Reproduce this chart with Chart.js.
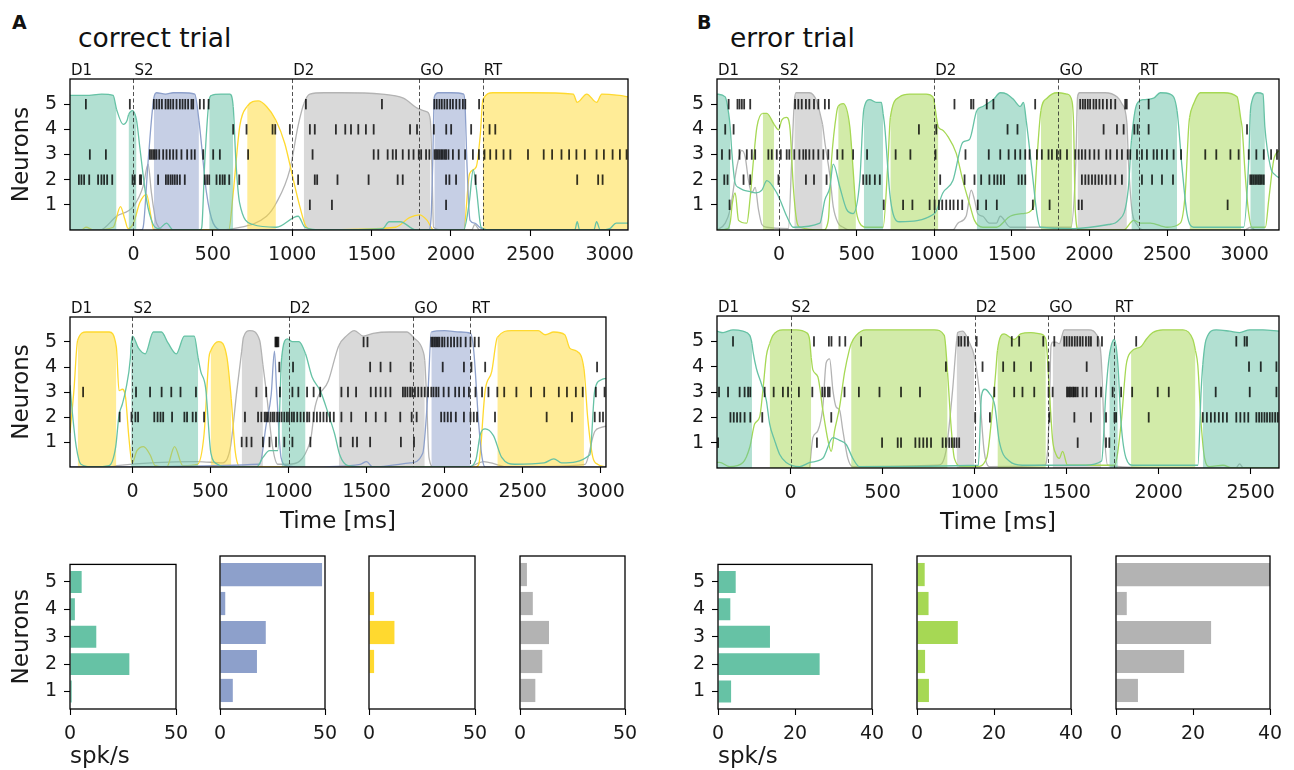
<!DOCTYPE html>
<html><head><meta charset="utf-8">
<script src="https://cdn.jsdelivr.net/npm/chart.js@4.4.0/dist/chart.umd.min.js"></script>
<style>
body{margin:0;background:#fff;width:1294px;height:770px;overflow:hidden;position:relative;font-family:'DejaVu Sans',sans-serif;}
canvas{position:absolute;}
.lbl{position:absolute;white-space:nowrap;color:#111;}
</style></head><body>
<div class="lbl" style="left:12px;top:13px;font-size:19px;font-weight:bold;line-height:19px">A</div>
<div class="lbl" style="left:78px;top:25px;font-size:26.5px;line-height:26.5px">correct trial</div>
<div class="lbl" style="left:697px;top:13px;font-size:19px;font-weight:bold;line-height:19px">B</div>
<div class="lbl" style="left:730px;top:25px;font-size:26.5px;line-height:26.5px">error trial</div>
<script>
Chart.defaults.font.family = 'DejaVu Sans';

const neurons = [1, 2, 3, 4, 5];
const eventNames = ['D1', 'S2', 'D2', 'GO', 'RT'];
const aTopEvents = [-400, 0, 1000, 1800, 2200];
const aBotEvents = [-400, 0, 1000, 1800, 2166];
const bTopEvents = [-400, 0, 1000, 1800, 2317];
const bBotEvents = [-400, 0, 1000, 1400, 1756];
const timeTicks = [0, 500, 1000, 1500, 2000, 2500, 3000];
const timeTicksShort = [0, 500, 1000, 1500, 2000, 2500];
const barTicksA = [0, 50];
const barTicksB = [0, 20, 40];

// spike times (ms), one list per neuron 1..5
const aTopSpikes = [
  [1111, 1250, 1969],
  [-344, -328, -311, -279, -223, -202, -185, -166, -134, -6, 8, 40, 48, 155, 204, 218, 233, 246, 260, 275, 292, 323, 449, 464, 477, 523, 544, 561, 575, 603, 666, 1037, 1142, 1157, 1285, 1481, 1664, 1696, 1969, 1990, 2032, 2155, 2795, 2927, 2955],
  [-275, -174, 103, 113, 124, 134, 145, 162, 187, 208, 229, 250, 271, 302, 338, 365, 386, 439, 502, 544, 722, 1128, 1513, 1542, 1601, 1633, 1654, 1696, 1734, 1764, 1797, 1812, 1843, 1864, 1896, 1906, 1917, 1927, 1938, 1948, 1959, 1969, 1984, 2012, 2049, 2089, 2138, 2176, 2211, 2247, 2285, 2331, 2374, 2485, 2584, 2637, 2696, 2744, 2790, 2843, 2917, 2963, 3018, 3064, 3106],
  [628, 712, 876, 893, 985, 1111, 1142, 1275, 1334, 1370, 1416, 1464, 1513, 1742, 1786, 1892, 1970, 2001, 2127, 2243, 2279],
  [-300, -23, 128, 145, 162, 179, 202, 218, 233, 250, 271, 292, 309, 326, 344, 365, 376, 418, 443, 473, 1086, 1565, 1895, 1910, 1927, 1942, 1959, 1976, 1995, 2012, 2033, 2054, 2075, 2090, 2177]
];
const aBotSpikes = [
  [700, 731, 763, 836, 878, 920, 973, 1025, 1140, 1334, 1412, 1439, 1523, 1720, 1804],
  [-82, -6, 19, 36, 140, 161, 180, 197, 254, 333, 350, 386, 407, 459, 721, 805, 826, 847, 857, 868, 885, 899, 910, 927, 941, 956, 973, 990, 1004, 1021, 1035, 1056, 1077, 1098, 1119, 1133, 1161, 1182, 1203, 1224, 1245, 1266, 1290, 1339, 1402, 1496, 1559, 1622, 1716, 1789, 1821, 1978, 1999, 2020, 2041, 2072, 2124, 2166, 2187, 2208, 2323, 2654, 2816, 2962, 2994, 3015],
  [-316, 23, 113, 187, 249, 308, 407, 794, 857, 945, 1025, 1063, 1119, 1161, 1203, 1339, 1381, 1433, 1527, 1559, 1590, 1622, 1653, 1733, 1747, 1762, 1779, 1793, 1810, 1831, 1852, 1873, 1894, 1915, 1929, 1946, 1961, 1994, 2026, 2068, 2093, 2124, 2156, 2198, 2240, 2281, 2338, 2382, 2460, 2554, 2638, 2732, 2784, 2841, 2885, 2969, 3025],
  [941, 1029, 1523, 1590, 1653, 1783, 1988, 2124, 2172, 2260, 2977],
  [916, 922, 928, 935, 1481, 1506, 1915, 1925, 1936, 1946, 1957, 1967, 1984, 1999, 2020, 2041, 2061, 2082, 2103, 2135, 2166, 2193, 2219]
];
const bTopSpikes = [
  [-319, 674, 799, 859, 970, 1002, 1030, 1051, 1077, 1102, 1124, 1152, 1180, 1280, 1334, 1403, 1635, 1743, 1930, 1951, 2890],
  [-353, -332, -229, -186, -4, 173, 225, 306, 542, 563, 584, 617, 649, 1038, 1195, 1259, 1302, 1355, 1386, 1407, 1429, 1450, 1543, 1564, 1586, 1951, 1973, 1994, 2016, 2037, 2059, 2080, 2108, 2134, 2166, 2209, 2338, 2403, 2467, 2538, 3036, 3046, 3057, 3068, 3079, 3090, 3100, 3111, 3123],
  [-368, -319, -255, -208, -176, -154, -69, -47, -15, 11, 49, 66, 98, 131, 156, 173, 195, 221, 253, 285, 317, 375, 409, 477, 567, 751, 846, 1008, 1201, 1351, 1425, 1479, 1521, 1554, 1586, 1614, 1661, 1693, 1736, 1758, 1790, 1812, 1855, 1908, 1930, 1951, 1973, 2001, 2031, 2059, 2108, 2134, 2177, 2209, 2246, 2263, 2306, 2338, 2370, 2413, 2435, 2467, 2499, 2542, 2590, 2746, 2817, 2908, 2961, 3026, 3075, 3123, 3170, 3208],
  [-347, -293, 901, 1013, 1472, 1536, 2091, 2177, 2220, 2289, 2310, 2381, 3015],
  [-325, -268, -255, -240, -225, -186, 103, 124, 146, 173, 195, 225, 253, 295, 321, 1130, 1237, 1252, 1338, 1381, 1650, 1940, 1957, 1972, 1989, 2004, 2026, 2043, 2064, 2086, 2112, 2138, 2166, 2230, 2240, 2381]
];
const bBotSpikes = [
  [-394, 143, 497, 582, 600, 678, 700, 721, 741, 763, 826, 844, 862, 876, 889, 902, 916, 1560, 1714, 1732],
  [-327, -309, -291, -273, -250, -219, -154, 221, 1003, 1083, 1406, 1542, 1632, 1714, 1760, 1769, 1946, 2240, 2262, 2284, 2305, 2327, 2349, 2371, 2422, 2444, 2466, 2487, 2531, 2546, 2560, 2575, 2589, 2604, 2618, 2633, 2647],
  [-389, -340, -277, -250, -231, -219, -141, -92, -42, -14, 45, 118, 172, 186, 203, 212, 293, 371, 483, 600, 703, 1107, 1215, 1260, 1324, 1402, 1424, 1502, 1510, 1518, 1526, 1535, 1542, 1550, 1560, 1587, 1609, 1660, 1687, 1750, 1796, 1856, 1995, 2055, 2310, 2495, 2640],
  [844, 1043, 1155, 1215, 1306, 1402, 1609, 2491, 2555, 2640],
  [-313, 127, 208, 222, 266, 297, 383, 913, 927, 946, 964, 1011, 1202, 1242, 1373, 1433, 1487, 1500, 1515, 1529, 1544, 1558, 1573, 1587, 1605, 1620, 1632, 1669, 1692, 1878, 2422, 2467, 2480]
];

// state probabilities [time ms, p] and the spans where the state is decoded
const aTopGreen = [[-400,.98],[-300,.98],[-200,.99],[-128,.98],[-107,.88],[-65,.77],[-40,.8],[-31,.84],[-6,.87],[19,.8],[40,.6],[82,.22],[124,.04],[160,.01],[208,.05],[250,0],[420,0],[430,.02],[449,.5],[477,.95],[490,.98],[550,.99],[607,.99],[628,.9],[645,.5],[668,.2],[752,.04],[900,.02],[1037,.1],[1080,.02],[1200,0],[1570,.01],[1610,.06],[1680,.06],[1780,0],[2080,0],[2115,.2],[2140,.44],[2160,.3],[2190,.02],[2250,0],[2780,0],[2795,.06],[2810,0],[2900,0],[2917,.06],[2940,0],[3000,.01],[3040,.05],[3115,.05]];
const aTopGreenOn = [[-400,-107],[-31,19],[477,628]];
const aTopBlue = [[-400,0],[50,0],[61,.02],[92,.5],[128,.96],[145,1],[202,.99],[250,1],[300,1],[386,.99],[412,.8],[460,.27],[502,.05],[560,0],[1860,0],[1875,.1],[1885,.5],[1895,.97],[1920,1],[2000,1],[2080,.99],[2089,.9],[2100,.5],[2120,.07],[2150,.05],[2180,.02],[2210,0],[3115,0]];
const aTopBlueOn = [[128,412],[1895,2089]];
const aTopYellow = [[-400,0],[-330,0],[-300,.02],[-250,0],[-128,.02],[-82,.17],[-55,.08],[-34,.01],[0,.05],[40,.2],[82,.26],[110,.1],[128,0],[600,0],[628,.27],[670,.76],[716,.9],[785,.94],[838,.9],[897,.8],[953,.63],[1006,.37],[1048,.17],[1090,.02],[1150,0],[1650,.02],[1738,.09],[1801,.11],[1850,.07],[1890,0],[2080,0],[2117,.41],[2159,.46],[2185,.7],[2201,.95],[2264,1],[2500,1],[2770,.99],[2795,.93],[2855,.99],[2917,.93],[2950,.99],[3060,.98],[3115,.97]];
const aTopYellowOn = [[716,897],[2201,3115]];
const aTopGrey = [[-400,0],[-212,0],[-107,.1],[-2,.17],[61,.32],[92,.48],[113,.27],[145,.05],[200,0],[523,0],[628,.01],[838,.1],[901,.2],[985,.44],[1037,.76],[1073,.92],[1111,.99],[1200,1],[1300,1],[1565,.99],[1700,.96],[1800,.88],[1850,.86],[1870,.8],[1881,.4],[1890,.02],[1950,0],[2130,0],[2150,.04],[2180,0],[3115,0]];
const aTopGreyOn = [[1073,1870]];

const aBotGreen = [[-400,.6],[-385,.4],[-360,.15],[-330,.02],[-250,0],[-150,.01],[-107,.15],[-86,.38],[-65,.46],[-44,.56],[-13,.8],[-8,.9],[0,.96],[40,.87],[82,.83],[134,.99],[186,.99],[228,.91],[281,.83],[333,.96],[396,.96],[421,.8],[438,.7],[469,.58],[503,.1],[545,.02],[600,0],[795,0],[836,.07],[878,.12],[931,.12],[956,.8],[993,.94],[1025,.92],[1067,.92],[1109,.83],[1151,.66],[1203,.56],[1255,.39],[1296,.24],[1328,.09],[1381,.01],[1500,0],[2150,0],[2200,.05],[2229,.24],[2260,.28],[2313,.23],[2366,.07],[2450,.02],[2638,.03],[2700,.06],[2750,.03],[2931,.09],[2962,.56],[3004,.64],[3034,.65]];
const aBotGreenOn = [[-8,421],[956,1109]];
const aBotYellow = [[-400,.25],[-375,.56],[-351,.93],[-296,.99],[-200,.99],[-149,.99],[-103,.88],[-86,.56],[-65,.57],[-44,.51],[-23,.22],[-2,.03],[29,.12],[71,.15],[113,.09],[145,.01],[220,0],[270,.15],[323,.01],[417,.02],[459,.24],[490,.8],[501,.85],[553,.92],[606,.8],[633,.5],[658,.12],[690,0],[2200,0],[2219,.02],[2260,.56],[2302,.7],[2338,.95],[2428,1],[2600,1],[2645,.97],[2700,.99],[2770,.97],[2803,.87],[2845,.85],[2893,.72],[2917,.36],[2950,.07],[2980,.02],[3034,0]];
const aBotYellowOn = [[-351,-103],[501,633],[2338,2893]];
const aBotGrey = [[-400,0],[-150,0],[-100,.01],[417,.04],[580,.03],[627,.14],[669,.56],[700,.85],[711,.95],[752,1],[815,.93],[836,.75],[857,.56],[899,.14],[931,.02],[1000,.02],[1140,.19],[1170,.44],[1255,.63],[1322,.89],[1370,.96],[1422,1],[1480,.96],[1542,.98],[1648,.99],[1758,.99],[1800,.95],[1862,.85],[1873,.78],[1885,.5],[1900,.07],[1930,0],[2150,0],[2250,.04],[2330,.02],[2400,0],[2900,.02],[2962,.26],[3004,.29],[3034,.3]];
const aBotGreyOn = [[700,836],[1322,1873]];
const aBotBlue = [[-400,0],[815,.02],[857,.31],[889,.53],[910,.85],[924,.56],[952,.07],[985,.01],[1100,0],[1460,.02],[1500,.04],[1540,0],[1780,.03],[1860,.1],[1894,.56],[1915,.99],[2000,1],[2100,.99],[2166,.98],[2187,.85],[2219,.31],[2240,.07],[2260,0],[3034,0]];
const aBotBlueOn = [[1915,2166]];

const bTopGreen = [[-400,.99],[-347,.97],[-325,.85],[-315,.75],[-304,.56],[-283,.34],[-261,.31],[-229,.29],[-186,.28],[-154,.27],[-111,.29],[-79,.36],[-15,.27],[6,.22],[49,.1],[92,.02],[263,.05],[295,.22],[327,.31],[349,.48],[392,.31],[435,.15],[477,.12],[520,.36],[546,.88],[584,.95],[627,.93],[659,.93],[670,.85],[681,.75],[713,.27],[734,.12],[777,.06],[1002,.12],[1055,.27],[1120,.36],[1184,.64],[1227,.66],[1274,.87],[1313,.9],[1380,.95],[1425,1],[1468,.99],[1511,.95],[1554,.9],[1575,.93],[1592,.8],[1629,.44],[1661,.12],[1683,.02],[1900,.01],[2123,.04],[2187,.07],[2250,.3],[2270,.65],[2306,.92],[2349,.95],[2413,.96],[2456,1],[2520,.99],[2564,.87],[2596,.46],[2628,.12],[2671,.02],[2993,.02],[3026,.51],[3036,.85],[3047,.94],[3080,1],[3118,.99],[3130,.75],[3166,.46],[3198,.4],[3221,.38]];
const bTopGreenOn = [[-400,-315],[546,670],[1274,1592],[2270,2564],[3036,3130]];
const bTopLime = [[-400,0],[-330,.01],[-313,.07],[-302,.19],[-283,.27],[-261,.07],[-208,.05],[-186,.24],[-165,.51],[-143,.75],[-105,.85],[-79,.85],[-32,.77],[-4,.73],[17,.8],[49,.82],[71,.73],[92,.31],[113,.07],[135,.02],[284,0],[317,.07],[338,.51],[370,.85],[381,.9],[413,.92],[456,.75],[477,.44],[495,.16],[520,.05],[560,.02],[670,.02],[702,.51],[717,.82],[777,.97],[841,.99],[948,.99],[991,.97],[1026,.75],[1050,.73],[1088,.68],[1141,.56],[1184,.36],[1227,.19],[1259,.07],[1313,.02],[1400,.02],[1489,.1],[1575,.12],[1640,.17],[1661,.51],[1687,.87],[1726,.96],[1790,1],[1855,.99],[1887,.94],[1898,.75],[1908,.15],[1930,0],[2220,0],[2285,.07],[2328,.05],[2392,.05],[2500,.02],[2585,.05],[2617,.27],[2639,.75],[2645,.82],[2671,.92],[2714,1],[2865,1],[2951,.97],[2976,.8],[2983,.75],[3004,.39],[3026,.12],[3047,.02],[3133,.02],[3155,.22],[3187,.51],[3221,.58]];
const bTopLimeOn = [[-105,-32],[381,495],[717,1026],[1687,1887],[2645,2976]];
const bTopGrey = [[-400,0],[-347,.05],[-315,.15],[-272,.46],[-240,.58],[-218,.53],[-197,.36],[-176,.27],[-154,.31],[-133,.15],[-111,.04],[-79,.02],[60,.01],[81,.5],[98,.93],[109,1],[195,1],[242,.94],[274,.8],[280,.77],[296,.63],[328,.39],[349,.17],[381,.05],[413,.02],[450,0],[1120,0],[1152,.05],[1205,.1],[1238,.29],[1259,.22],[1280,.12],[1313,.1],[1355,.05],[1400,.05],[1425,.1],[1490,.02],[1880,.02],[1912,.5],[1923,.97],[1936,1],[2100,1],[2177,.97],[2209,.92],[2241,.78],[2251,.5],[2273,.15],[2306,.04],[2349,0],[3000,0],[3036,.02],[3070,0],[3221,0]];
const bTopGreyOn = [[98,280],[1923,2241]];

const bBotGreen = [[-400,.99],[-367,.98],[-313,1],[-259,.99],[-222,.96],[-210,.9],[-204,.84],[-186,.72],[-159,.61],[-132,.49],[-114,.32],[-87,.2],[-60,.1],[-24,.04],[49,.01],[105,.04],[175,.07],[230,.22],[266,.2],[302,.17],[338,.07],[374,.01],[1020,.02],[1037,.52],[1055,.57],[1080,.54],[1110,.45],[1133,.2],[1188,.05],[1260,.02],[1600,.02],[1690,.05],[1714,.56],[1732,.81],[1759,.93],[1778,.76],[1796,.32],[1823,.07],[1860,.02],[2213,.02],[2231,.56],[2240,.75],[2258,.93],[2313,1],[2386,.99],[2440,.98],[2495,1],[2567,1],[2654,.99]];
const bBotGreenOn = [[-400,-210],[1732,1778],[2240,2654]];
const bBotLime = [[-400,.04],[-386,.04],[-331,.01],[-259,.04],[-222,.15],[-195,.32],[-168,.37],[-150,.57],[-132,.81],[-114,.9],[-96,.96],[-42,1],[31,1],[85,.98],[103,.93],[112,.8],[121,.71],[148,.66],[175,.42],[203,.2],[221,.12],[239,.27],[266,.44],[293,.69],[320,.86],[329,.9],[356,.96],[410,1],[600,1],[781,1],[835,.96],[853,.69],[871,.32],[890,.07],[933,.01],[1011,.01],[1065,.07],[1098,.44],[1115,.7],[1124,.85],[1160,.97],[1215,.93],[1250,.97],[1305,.98],[1360,.97],[1387,.93],[1406,.56],[1424,.2],[1442,.1],[1460,.07],[1478,.12],[1505,.02],[1760,.02],[1796,.32],[1823,.74],[1850,.84],[1905,.88],[1932,.93],[1968,.98],[2023,1],[2132,1],[2186,.93],[2200,.85],[2213,.74],[2231,.32],[2250,.07],[2277,.01],[2350,.02],[2400,0],[2654,0]];
const bBotLimeOn = [[-114,112],[329,853],[1124,1387],[1850,2200]];
const bBotGrey = [[-400,0],[100,0],[121,.22],[148,.27],[175,.44],[193,.76],[212,.79],[230,.56],[248,.44],[266,.42],[284,.27],[311,.07],[338,.01],[800,.02],[844,.12],[880,.56],[902,.92],[908,.98],[935,.99],[971,.91],[998,.81],[1025,.56],[1052,.12],[1079,.01],[1380,.02],[1395,.1],[1406,.42],[1415,.88],[1424,.91],[1442,.91],[1460,.9],[1487,1],[1623,1],[1660,.97],[1687,.81],[1705,.25],[1723,.02],[2000,0],[2420,0],[2440,.03],[2460,0],[2654,0]];
const bBotGreyOn = [[902,998],[1424,1687]];

// mean firing rate (spk/s) per state, neurons 1..5
const rateAGreen = [0.8, 28, 12.4, 2.3, 5.5];
const rateABlue = [6.1, 17.6, 21.8, 2.5, 48.6];
const rateAYellow = [0, 2.4, 12, 2.4, 0];
const rateAGrey = [7.3, 10.6, 13.8, 6.1, 3.3];
const rateBGreen = [3.4, 26.4, 13.5, 3.2, 4.6];
const rateBLime = [3.1, 2.1, 10.6, 3.0, 2.0];
const rateBGrey = [5.7, 17.7, 24.7, 2.8, 40];

const COL = {green: '#66c2a5', blue: '#8da0cb', yellow: '#ffd92f', grey: '#b3b3b3', lime: '#a6d854'};
const tickFont = {family: 'DejaVu Sans', size: 19};
const titleFont = {family: 'DejaVu Sans', size: 23};
const NONE = 'rgba(0,0,0,0)';

function inside(on, a, b) {
  return on.some(([s, e]) => a >= s - 0.5 && b <= e + 0.5);
}

const framePlugin = {
  id: 'frame',
  afterDraw(chart) {
    const {ctx, chartArea: a} = chart;
    ctx.save();
    ctx.strokeStyle = '#000';
    ctx.lineWidth = 1.3;
    ctx.strokeRect(a.left, a.top, a.right - a.left, a.bottom - a.top);
    ctx.restore();
  }
};

function eventsPlugin(times) {
  return {
    id: 'events',
    afterDatasetsDraw(chart) {
      const {ctx, chartArea: a, scales: {x}} = chart;
      ctx.save();
      ctx.setLineDash([4, 2.5]);
      ctx.strokeStyle = 'rgba(40,40,40,0.8)';
      ctx.lineWidth = 1;
      times.forEach(t => {
        if (t <= x.min) return;
        const px = Math.round(x.getPixelForValue(t)) + 0.5;
        ctx.beginPath(); ctx.moveTo(px, a.top); ctx.lineTo(px, a.bottom); ctx.stroke();
      });
      ctx.setLineDash([]);
      ctx.fillStyle = '#111';
      ctx.font = '15px "DejaVu Sans"';
      ctx.textAlign = 'left';
      ctx.textBaseline = 'alphabetic';
      times.forEach((t, i) => ctx.fillText(eventNames[i], x.getPixelForValue(t) + 1, a.top - 4));
      ctx.restore();
    }
  };
}

function makeCanvas(box, m) {
  const cv = document.createElement('canvas');
  const w = m.l + box.w + m.r, h = m.t + box.h + m.b;
  cv.width = w; cv.height = h;
  Object.assign(cv.style, {left: (box.l - m.l) + 'px', top: (box.t - m.t) + 'px', width: w + 'px', height: h + 'px'});
  document.body.appendChild(cv);
  return cv;
}

function tickGrid(show) {
  return {display: show, drawOnChartArea: false, drawTicks: show, tickLength: 6, tickColor: '#000', tickWidth: 1.1};
}

function raster(box, m, o) {
  const datasets = [];
  o.spikes.forEach((times, i) => datasets.push({
    data: times.map(t => ({x: t, y: neurons[i]})),
    showLine: false, pointStyle: 'line', pointRotation: 90, pointRadius: 5.2, pointHoverRadius: 5.2,
    pointBorderColor: 'rgba(0,0,0,0.8)', pointBorderWidth: 1.8, yAxisID: 'y', order: 0
  }));
  o.states.forEach(s => datasets.push({
    data: s.curve.map(([t, p]) => ({x: t, y: p})), yAxisID: 'yp',
    borderColor: s.color, borderWidth: 1.3, pointRadius: 0, cubicInterpolationMode: 'monotone',
    fill: 'origin', backgroundColor: NONE,
    segment: {backgroundColor: c => inside(s.on, s.curve[c.p0DataIndex][0], s.curve[c.p1DataIndex][0]) ? s.color + '80' : NONE},
    order: 1
  }));
  new Chart(makeCanvas(box, m), {
    type: 'line',
    data: {datasets},
    options: {
      responsive: false, animation: false, events: [],
      layout: {padding: {top: m.t, right: m.r, left: 0, bottom: 0}},
      plugins: {legend: {display: false}, tooltip: {enabled: false}},
      scales: {
        x: {
          type: 'linear', min: o.xMin, max: o.xMax,
          afterBuildTicks: s => { s.ticks = o.xTicks.map(v => ({value: v})); },
          afterFit: s => { s.height = m.b; },
          ticks: {font: tickFont, color: '#1a1a1a', padding: 8, maxRotation: 0, autoSkip: false, callback: v => String(v)},
          grid: tickGrid(true), border: {display: false},
          title: {display: !!o.xTitle, text: o.xTitle || '', font: titleFont, color: '#1a1a1a', padding: 0}
        },
        y: {
          min: 0, max: 6,
          afterBuildTicks: s => { s.ticks = neurons.map(v => ({value: v})); },
          afterFit: s => { s.width = m.l; },
          ticks: {font: tickFont, color: '#1a1a1a', padding: 7, autoSkip: false, callback: v => String(v)},
          grid: tickGrid(true), border: {display: false},
          title: {display: !!o.yTitle, text: o.yTitle || '', font: titleFont, color: '#1a1a1a', padding: 0}
        },
        yp: {type: 'linear', position: 'right', display: false, min: 0, max: 1.1}
      }
    },
    plugins: [framePlugin, eventsPlugin(o.events)]
  });
}

function bars(box, m, o) {
  new Chart(makeCanvas(box, m), {
    type: 'bar',
    data: {datasets: [{
      data: o.values.map((v, i) => ({x: v, y: neurons[i]})),
      backgroundColor: o.color, borderWidth: 0, barPercentage: 0.8, categoryPercentage: 1
    }]},
    options: {
      indexAxis: 'y', responsive: false, animation: false, events: [],
      layout: {padding: {top: m.t, right: m.r, left: 0, bottom: 0}},
      plugins: {legend: {display: false}, tooltip: {enabled: false}},
      scales: {
        x: {
          type: 'linear', min: 0, max: o.xMax,
          afterBuildTicks: s => { s.ticks = o.xTicks.map(v => ({value: v})); },
          afterFit: s => { s.height = m.b; },
          ticks: {font: tickFont, color: '#1a1a1a', padding: 8, maxRotation: 0, autoSkip: false, callback: v => String(v)},
          grid: tickGrid(true), border: {display: false},
          title: {display: !!o.xTitle, text: o.xTitle || '', font: titleFont, color: '#1a1a1a', padding: 0, align: 'start'}
        },
        y: {
          type: 'linear', min: 0.36, max: 5.64, offset: false,
          afterBuildTicks: s => { s.ticks = neurons.map(v => ({value: v})); },
          afterFit: s => { s.width = m.l; },
          ticks: {display: o.yTicks, font: tickFont, color: '#1a1a1a', padding: 7, autoSkip: false, callback: v => String(v)},
          grid: Object.assign(tickGrid(o.yTicks), {offset: false}), border: {display: false},
          title: {display: !!o.yTitle, text: o.yTitle || '', font: titleFont, color: '#1a1a1a', padding: 0}
        }
      }
    },
    plugins: [framePlugin]
  });
}

// panel A rasters
raster({l: 70, t: 79, w: 558, h: 151}, {l: 62, t: 32, r: 16, b: 40}, {
  xMin: -400, xMax: 3115, xTicks: timeTicks, events: aTopEvents, yTitle: 'Neurons', spikes: aTopSpikes,
  states: [
    {curve: aTopGreen, on: aTopGreenOn, color: COL.green},
    {curve: aTopBlue, on: aTopBlueOn, color: COL.blue},
    {curve: aTopYellow, on: aTopYellowOn, color: COL.yellow},
    {curve: aTopGrey, on: aTopGreyOn, color: COL.grey}
  ]
});
raster({l: 70, t: 317, w: 547, h: 150}, {l: 62, t: 32, r: 16, b: 69}, {
  xMin: -400, xMax: 3034, xTicks: timeTicks, events: aBotEvents, yTitle: 'Neurons', xTitle: 'Time [ms]', spikes: aBotSpikes,
  states: [
    {curve: aBotGreen, on: aBotGreenOn, color: COL.green},
    {curve: aBotBlue, on: aBotBlueOn, color: COL.blue},
    {curve: aBotYellow, on: aBotYellowOn, color: COL.yellow},
    {curve: aBotGrey, on: aBotGreyOn, color: COL.grey}
  ]
});
// panel B rasters
raster({l: 717, t: 79, w: 562, h: 151}, {l: 40, t: 32, r: 14, b: 40}, {
  xMin: -400, xMax: 3221, xTicks: timeTicks, events: bTopEvents, spikes: bTopSpikes,
  states: [
    {curve: bTopGreen, on: bTopGreenOn, color: COL.green},
    {curve: bTopLime, on: bTopLimeOn, color: COL.lime},
    {curve: bTopGrey, on: bTopGreyOn, color: COL.grey}
  ]
});
raster({l: 717, t: 316, w: 562, h: 152}, {l: 40, t: 32, r: 14, b: 69}, {
  xMin: -400, xMax: 2654, xTicks: timeTicksShort, events: bBotEvents, xTitle: 'Time [ms]', spikes: bBotSpikes,
  states: [
    {curve: bBotGreen, on: bBotGreenOn, color: COL.green},
    {curve: bBotLime, on: bBotLimeOn, color: COL.lime},
    {curve: bBotGrey, on: bBotGreyOn, color: COL.grey}
  ]
});

// firing-rate bars
const barBoxA = {t: 556, h: 153};
bars({l: 70, w: 106, ...barBoxA}, {l: 62, t: 10, r: 26, b: 62}, {values: rateAGreen, color: COL.green, xMax: 50, xTicks: barTicksA, yTicks: true, yTitle: 'Neurons', xTitle: 'spk/s'});
bars({l: 220, w: 105, ...barBoxA}, {l: 18, t: 10, r: 26, b: 62}, {values: rateABlue, color: COL.blue, xMax: 50, xTicks: barTicksA, yTicks: false});
bars({l: 369, w: 106, ...barBoxA}, {l: 18, t: 10, r: 26, b: 62}, {values: rateAYellow, color: COL.yellow, xMax: 50, xTicks: barTicksA, yTicks: false});
bars({l: 520, w: 105, ...barBoxA}, {l: 18, t: 10, r: 26, b: 62}, {values: rateAGrey, color: COL.grey, xMax: 50, xTicks: barTicksA, yTicks: false});
bars({l: 718, w: 154, ...barBoxA}, {l: 40, t: 10, r: 26, b: 62}, {values: rateBGreen, color: COL.green, xMax: 40, xTicks: barTicksB, yTicks: true, xTitle: 'spk/s'});
bars({l: 917, w: 154, ...barBoxA}, {l: 18, t: 10, r: 26, b: 62}, {values: rateBLime, color: COL.lime, xMax: 40, xTicks: barTicksB, yTicks: false});
bars({l: 1116, w: 154, ...barBoxA}, {l: 18, t: 10, r: 26, b: 62}, {values: rateBGrey, color: COL.grey, xMax: 40, xTicks: barTicksB, yTicks: false});
</script>
</body></html>
